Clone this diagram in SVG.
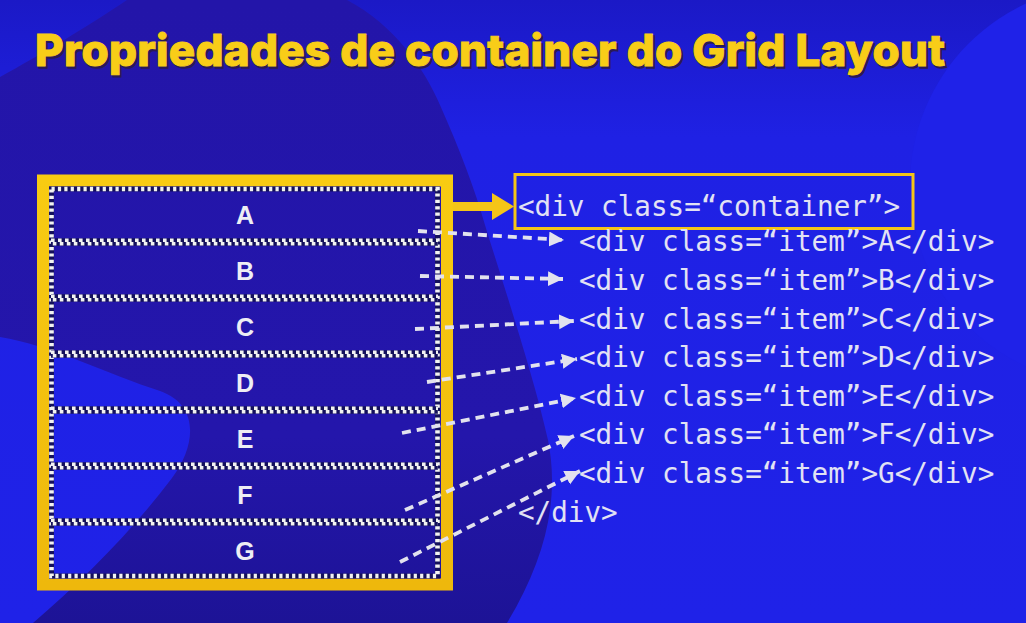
<svg xmlns="http://www.w3.org/2000/svg" width="1026" height="623" viewBox="0 0 1026 623">
  <defs>
    <linearGradient id="bgGrad" x1="0" y1="0" x2="0" y2="1">
      <stop offset="0" stop-color="#1b19c6"/>
      <stop offset="0.22" stop-color="#1f21e4"/>
      <stop offset="1" stop-color="#1f22e8"/>
    </linearGradient>
    <linearGradient id="blobGrad" x1="0" y1="0" x2="0" y2="1">
      <stop offset="0" stop-color="#2315a9"/>
      <stop offset="0.7" stop-color="#2416ab"/>
      <stop offset="1" stop-color="#1d1396"/>
    </linearGradient>
    <linearGradient id="frameGrad" x1="0" y1="0" x2="0" y2="1">
      <stop offset="0" stop-color="#f8cb12"/>
      <stop offset="1" stop-color="#eeb80c"/>
    </linearGradient>
    <marker id="head" markerUnits="userSpaceOnUse" markerWidth="17" markerHeight="16" refX="15" refY="7.5" orient="auto">
      <path d="M0,0 L15,7.5 L0,15 Z" fill="#e2e2ee"/>
    </marker>
    <style>
      .title { font-family: Inter, "Open Sans", sans-serif; font-weight: 800; font-size: 44px; }
      .row { font-family: "Liberation Sans", Arial, sans-serif; font-weight: bold; font-size: 25px; fill: #eeeef4; text-anchor: middle; }
      .code { font-family: "DejaVu Sans Mono", "Liberation Mono", monospace; font-size: 27.6px; fill: #e2e2f4; }
      .link { fill: none; stroke: #e2e2ee; stroke-width: 3.8; stroke-dasharray: 9 6; marker-end: url(#head); }
      .sepDark { stroke: #14105c; stroke-width: 7.5; }
      .sepWhite { stroke: #f2f2f2; stroke-width: 3.6; stroke-dasharray: 3.6 3.4; }
    </style>
  </defs>

  <!-- background -->
  <rect x="0" y="0" width="1026" height="623" fill="url(#bgGrad)"/>
  <circle cx="1110" cy="185" r="200" fill="#1f22e8"/>
  <path d="M127,0 L347,0 C395,25 425,70 440,105 C460,150 475,190 485,225 C505,290 535,380 548,440 C560,500 545,560 507,623 L33,623 C83,580 133,530 172,478 C196,446 200,405 160,391 C110,375 50,345 0,337 L0,77 C40,55 90,25 127,0 Z" fill="url(#blobGrad)"/>

  <!-- title -->
  <text class="title" x="37" y="68" fill="#2a1a55" stroke="#2a1a55" stroke-width="1.5" textLength="910">Propriedades de container do Grid Layout</text>
  <text class="title" x="35" y="66" fill="#f8cd18" stroke="#f8cd18" stroke-width="1" textLength="910">Propriedades de container do Grid Layout</text>

  <!-- grid container -->
  <g id="grid-container">
    <rect x="43" y="180.5" width="404" height="404" fill="none" stroke="url(#frameGrad)" stroke-width="12"/>
    <rect x="51.5" y="189" width="386" height="387" fill="none" stroke="#14105c" stroke-width="5"/>
    <rect x="51.5" y="189" width="386" height="387" fill="none" stroke="#f2f2f2" stroke-width="4.6" stroke-dasharray="3.2 3.2"/>
  </g>

  <!-- row separators -->
  <g id="separators">
    <line class="sepDark" x1="51" y1="242" x2="438" y2="242"/>
    <line class="sepWhite" x1="51" y1="240.2" x2="438" y2="240.2"/>
    <line class="sepWhite" x1="52.8" y1="243.8" x2="438" y2="243.8"/>
    <line class="sepDark" x1="51" y1="298" x2="438" y2="298"/>
    <line class="sepWhite" x1="51" y1="296.2" x2="438" y2="296.2"/>
    <line class="sepWhite" x1="52.8" y1="299.8" x2="438" y2="299.8"/>
    <line class="sepDark" x1="51" y1="354" x2="438" y2="354"/>
    <line class="sepWhite" x1="51" y1="352.2" x2="438" y2="352.2"/>
    <line class="sepWhite" x1="52.8" y1="355.8" x2="438" y2="355.8"/>
    <line class="sepDark" x1="51" y1="410" x2="438" y2="410"/>
    <line class="sepWhite" x1="51" y1="408.2" x2="438" y2="408.2"/>
    <line class="sepWhite" x1="52.8" y1="411.8" x2="438" y2="411.8"/>
    <line class="sepDark" x1="51" y1="466" x2="438" y2="466"/>
    <line class="sepWhite" x1="51" y1="464.2" x2="438" y2="464.2"/>
    <line class="sepWhite" x1="52.8" y1="467.8" x2="438" y2="467.8"/>
    <line class="sepDark" x1="51" y1="522" x2="438" y2="522"/>
    <line class="sepWhite" x1="51" y1="520.2" x2="438" y2="520.2"/>
    <line class="sepWhite" x1="52.8" y1="523.8" x2="438" y2="523.8"/>
  </g>

  <!-- grid items -->
  <g id="item-a"><text class="row" x="245" y="224">A</text></g>
  <g id="item-b"><text class="row" x="245" y="280">B</text></g>
  <g id="item-c"><text class="row" x="245" y="336">C</text></g>
  <g id="item-d"><text class="row" x="245" y="392">D</text></g>
  <g id="item-e"><text class="row" x="245" y="448">E</text></g>
  <g id="item-f"><text class="row" x="245" y="504">F</text></g>
  <g id="item-g"><text class="row" x="245" y="560">G</text></g>

  <!-- markup -->
  <g id="code-container">
    <rect x="515" y="174.5" width="398" height="54" fill="none" stroke="#f5c518" stroke-width="3"/>
    <text class="code" x="518" y="216">&lt;div class=“container”&gt;</text>
  </g>
  <g id="code-a"><text class="code" x="579" y="251">&lt;div class=“item”&gt;A&lt;/div&gt;</text></g>
  <g id="code-b"><text class="code" x="579" y="290">&lt;div class=“item”&gt;B&lt;/div&gt;</text></g>
  <g id="code-c"><text class="code" x="579" y="329">&lt;div class=“item”&gt;C&lt;/div&gt;</text></g>
  <g id="code-d"><text class="code" x="579" y="367">&lt;div class=“item”&gt;D&lt;/div&gt;</text></g>
  <g id="code-e"><text class="code" x="579" y="406">&lt;div class=“item”&gt;E&lt;/div&gt;</text></g>
  <g id="code-f"><text class="code" x="579" y="444">&lt;div class=“item”&gt;F&lt;/div&gt;</text></g>
  <g id="code-g"><text class="code" x="579" y="483">&lt;div class=“item”&gt;G&lt;/div&gt;</text></g>
  <g id="code-close"><text class="code" x="518" y="522">&lt;/div&gt;</text></g>

  <!-- connectors -->
  <g id="connectors">
    <line x1="453" y1="206.5" x2="494" y2="206.5" stroke="#f5c518" stroke-width="9"/>
    <path d="M492,193 L514,206.5 L492,220 Z" fill="#f5c518"/>
    <path class="link" d="M418,231 L564,240"/>
    <path class="link" d="M420,276 L563,279"/>
    <path class="link" d="M415,329 L574,321"/>
    <path class="link" d="M427,382 L577,359"/>
    <path class="link" d="M402,433 L576,398"/>
    <path class="link" d="M405,510 L574,436"/>
    <path class="link" d="M400,562 L580,471"/>
  </g>
</svg>
